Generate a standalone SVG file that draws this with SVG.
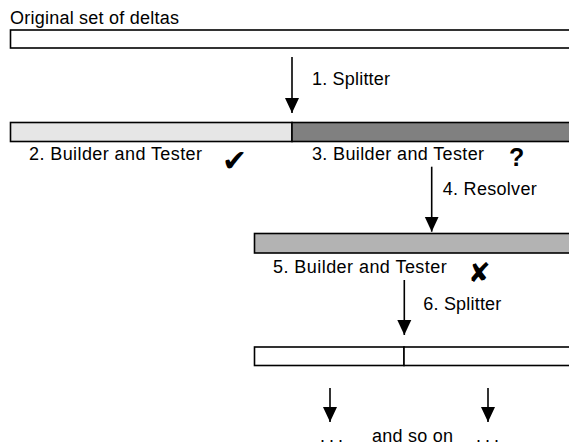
<svg xmlns="http://www.w3.org/2000/svg" width="569" height="445" viewBox="0 0 569 445">
<style>
  .t { font-family: "Liberation Sans", Arial, sans-serif; font-size: 18px; fill: #000; }
  .bar { stroke: #000; stroke-width: 1.6; }
  .ar { stroke: #000; stroke-width: 1.6; fill: none; marker-end: url(#ah); }
  .sym { font-family: "DejaVu Sans", sans-serif; fill: #000; }
</style>
<defs>
  <marker id="ah" markerUnits="userSpaceOnUse" markerWidth="16" markerHeight="16" viewBox="0 0 16 16" refX="15" refY="8" orient="auto">
    <polygon points="0,1 15,8 0,15" fill="#000"/>
  </marker>
</defs>
<rect width="569" height="445" fill="#fff"/>

<g id="original">
  <text class="t" x="10" y="23.5" textLength="169">Original set of deltas</text>
  <rect class="bar" x="10.5" y="30" width="600" height="18" fill="#fff"/>
</g>

<g id="split1">
  <rect class="bar" x="10.5" y="122.5" width="281.5" height="19" fill="#e6e6e6"/>
  <rect class="bar" x="292" y="122.5" width="320" height="19" fill="#808080"/>
</g>

<g id="builder2">
  <text class="t" x="29" y="160" textLength="173">2. Builder and Tester</text>
  <text class="sym" x="222" y="171" font-size="30">✔</text>
</g>

<g id="builder3">
  <text class="t" x="312" y="160" textLength="172">3. Builder and Tester</text>
  <text x="509" y="166" font-family="Liberation Sans, Arial, sans-serif" font-weight="bold" font-size="25">?</text>
</g>

<g id="resolved">
  <rect class="bar" x="254.5" y="233.5" width="360" height="19.5" fill="#b3b3b3"/>
</g>

<g id="builder5">
  <text class="t" x="273" y="272.7" textLength="173.7">5. Builder and Tester</text>
  <text class="sym" x="468" y="282" font-size="27">✘</text>
</g>

<g id="split2">
  <rect class="bar" x="254.5" y="347" width="149.5" height="18.5" fill="#fff"/>
  <rect class="bar" x="404" y="347" width="210" height="18.5" fill="#fff"/>
</g>

<g id="andsoon">
  <text class="t" x="320" y="442" textLength="23">. . .</text>
  <text class="t" x="372" y="442" textLength="81">and so on</text>
  <text class="t" x="476" y="442" textLength="23">. . .</text>
</g>

<g id="connectors">
  <line class="ar" x1="292" y1="57" x2="292" y2="113"/>
  <text class="t" x="312" y="85" textLength="78">1. Splitter</text>
  <line class="ar" x1="431.7" y1="166.7" x2="431.7" y2="231.7"/>
  <text class="t" x="442.7" y="195" textLength="94">4. Resolver</text>
  <line class="ar" x1="404.3" y1="280" x2="404.3" y2="335"/>
  <text class="t" x="423.3" y="310" textLength="78">6. Splitter</text>
  <line class="ar" x1="330" y1="388" x2="330" y2="422"/>
  <line class="ar" x1="488" y1="388" x2="488" y2="422"/>
</g>
</svg>
